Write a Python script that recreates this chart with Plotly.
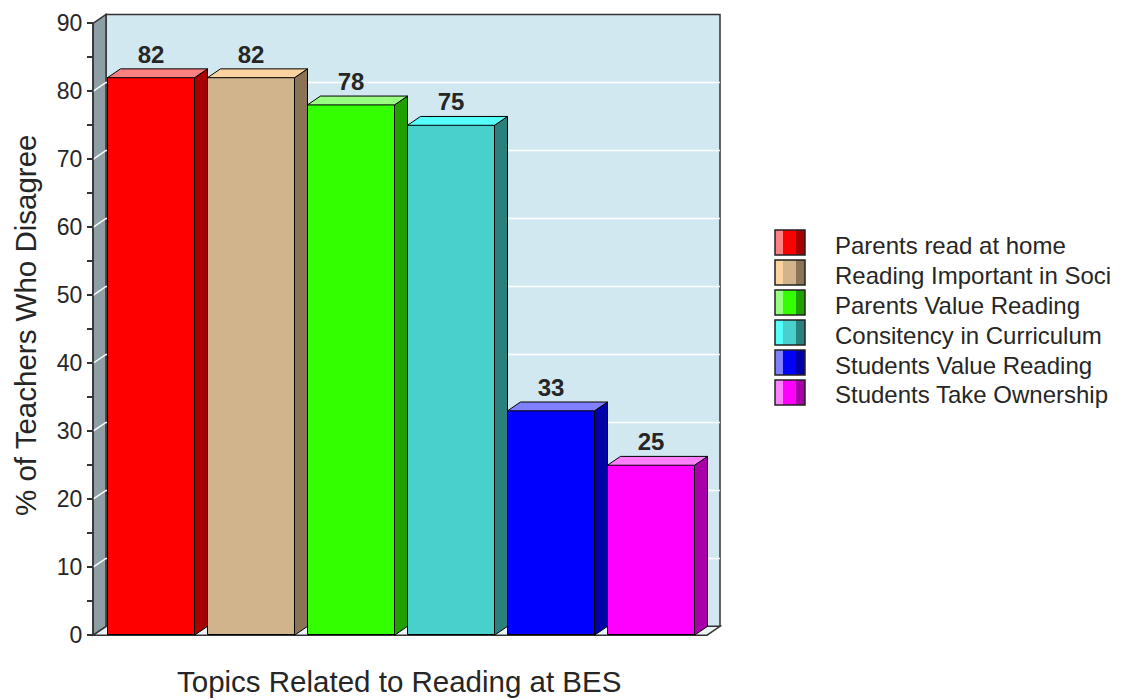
import plotly.graph_objects as go

# ---- data ----
categories = [
    "Parents read at home",
    "Reading Important in Soci",
    "Parents Value Reading",
    "Consitency in Curriculum",
    "Students Value Reading",
    "Students Take Ownership",
]
values = [82, 82, 78, 75, 33, 25]
front_colors = ["#FF0000", "#D2B48C", "#33FF00", "#48D1CC", "#0000FF", "#FF00FF"]
top_colors = ["#FF8080", "#FAD3A0", "#99FF80", "#55FFFA", "#8080FF", "#FF80FF"]
side_colors = ["#A80000", "#8B7355", "#1FA000", "#2B807B", "#0000A8", "#A800A8"]
y_ticks = [0, 10, 20, 30, 40, 50, 60, 70, 80, 90]

# ---- pseudo-3D geometry (data units) ----
BAR_W = 0.87      # width of each bar's front face
DX = 0.13         # depth offset, horizontal
DY = 1.3          # depth offset, vertical
X0 = -0.58        # front position of the value axis
XR = 5.69         # right edge of the back wall
YMAX = 90
XRANGE = [-0.70, 5.75]
YRANGE = [-1.0, 92.4]

W, H = 1132, 700
M_L, M_R, M_T, M_B = 81, 406, 7, 58
PLOT_W = W - M_L - M_R
PLOT_H = H - M_T - M_B

FONT = "Liberation Sans, Arial, sans-serif"
NARROW = "Liberation Sans Narrow, Arial Narrow, Liberation Sans, Arial, sans-serif"
TXT = "#262626"
EDGE = "#333333"


def px(xp):
    return (xp - M_L) / PLOT_W


def py(yp):
    return (H - M_B - yp) / PLOT_H


def poly(xs, ys):
    pts = list(zip(xs, ys))
    return "M " + " L ".join(f"{x},{y}" for x, y in pts) + " Z"


fig = go.Figure()
shapes = []

# floor slab
shapes.append(dict(type="path", xref="x", yref="y", layer="below",
                   path=poly([X0, XR - DX, XR, X0 + DX], [0, 0, DY, DY]),
                   fillcolor="#EAF4F8", line=dict(color=EDGE, width=1.5)))
# back wall
shapes.append(dict(type="path", xref="x", yref="y", layer="below",
                   path=poly([X0 + DX, XR, XR, X0 + DX], [DY, DY, YMAX + DY, YMAX + DY]),
                   fillcolor="#D2E8F0", line=dict(color=EDGE, width=1.5)))
# left wall
shapes.append(dict(type="path", xref="x", yref="y", layer="below",
                   path=poly([X0, X0 + DX, X0 + DX, X0], [0, DY, YMAX + DY, YMAX]),
                   fillcolor="#8E9EA5", line=dict(color=EDGE, width=1.5)))
# grid lines on the walls
for g in y_ticks[1:-1]:
    shapes.append(dict(type="path", xref="x", yref="y", layer="below",
                       path=f"M {X0},{g} L {X0 + DX},{g + DY} L {XR},{g + DY}",
                       line=dict(color="white", width=1.5)))
# front edge of the value axis
shapes.append(dict(type="line", xref="x", yref="y", layer="below",
                   x0=X0, x1=X0, y0=0, y1=YMAX, line=dict(color=EDGE, width=1.5)))

# front faces
xs = list(range(len(values)))
fig.add_trace(go.Bar(
    x=xs, y=values, width=BAR_W,
    marker=dict(color=front_colors, line=dict(color="black", width=1)),
    showlegend=False, hoverinfo="skip",
))

# side and top faces
for i, v in enumerate(values):
    r = i + BAR_W / 2
    l = i - BAR_W / 2
    fig.add_trace(go.Scatter(
        x=[r, r + DX, r + DX, r, r], y=[0, DY, v + DY, v, 0],
        mode="lines", fill="toself", fillcolor=side_colors[i],
        line=dict(color="black", width=1), showlegend=False, hoverinfo="skip"))
    fig.add_trace(go.Scatter(
        x=[l, l + DX, r + DX, r, l], y=[v, v + DY, v + DY, v, v],
        mode="lines", fill="toself", fillcolor=top_colors[i],
        line=dict(color="black", width=1), showlegend=False, hoverinfo="skip"))

# value labels
fig.add_trace(go.Scatter(
    x=xs, y=[v + DY for v in values], mode="text",
    text=[str(v) for v in values], textposition="top center",
    textfont=dict(family=NARROW, size=24, color=TXT, weight="bold"),
    showlegend=False, hoverinfo="skip", cliponaxis=False))

# legend drawn as three-tone swatches
annotations = []
for k, name in enumerate(categories):
    top = 230 + 30 * k
    bot = top + 25
    stripes = [(775, 783, top_colors[k]), (783, 796, front_colors[k]), (796, 805, side_colors[k])]
    for a, b, c in stripes:
        shapes.append(dict(type="rect", xref="paper", yref="paper",
                           x0=px(a), x1=px(b), y0=py(bot), y1=py(top),
                           fillcolor=c, line=dict(width=0)))
    shapes.append(dict(type="rect", xref="paper", yref="paper",
                       x0=px(775), x1=px(805), y0=py(bot), y1=py(top),
                       fillcolor="rgba(0,0,0,0)", line=dict(color="#222", width=1.5)))
    annotations.append(dict(xref="paper", yref="paper", x=px(833), y=py(top + 15),
                            xanchor="left", yanchor="middle", showarrow=False,
                            text=name, font=dict(family=FONT, size=24, color=TXT)))

# axis titles
annotations.append(dict(xref="paper", yref="paper", x=px(399), y=py(682),
                        xanchor="center", yanchor="middle", showarrow=False,
                        text="Topics Related to Reading at BES",
                        font=dict(family=FONT, size=29.5, color=TXT)))
annotations.append(dict(xref="paper", yref="paper", x=px(25), y=py(325),
                        xanchor="center", yanchor="middle", showarrow=False,
                        textangle=-90, text="% of Teachers Who Disagree",
                        font=dict(family=FONT, size=29.5, color=TXT)))

fig.update_layout(
    width=W, height=H,
    margin=dict(l=M_L, r=M_R, t=M_T, b=M_B, pad=0),
    paper_bgcolor="white", plot_bgcolor="white",
    shapes=shapes, annotations=annotations,
    bargap=0,
    xaxis=dict(range=XRANGE, visible=False, fixedrange=True),
    yaxis=dict(
        range=YRANGE, anchor="free",
        position=(X0 - XRANGE[0]) / (XRANGE[1] - XRANGE[0]),
        tickvals=y_ticks, ticks="outside", ticklen=6, tickwidth=1.5, tickcolor=EDGE,
        minor=dict(dtick=5, tick0=0, ticks="outside", ticklen=6, tickwidth=1.5, tickcolor=EDGE),
        showgrid=False, zeroline=False, showline=False,
        tickfont=dict(family=FONT, size=23, color=TXT),
        fixedrange=True,
    ),
)

fig.write_html("out.html")
